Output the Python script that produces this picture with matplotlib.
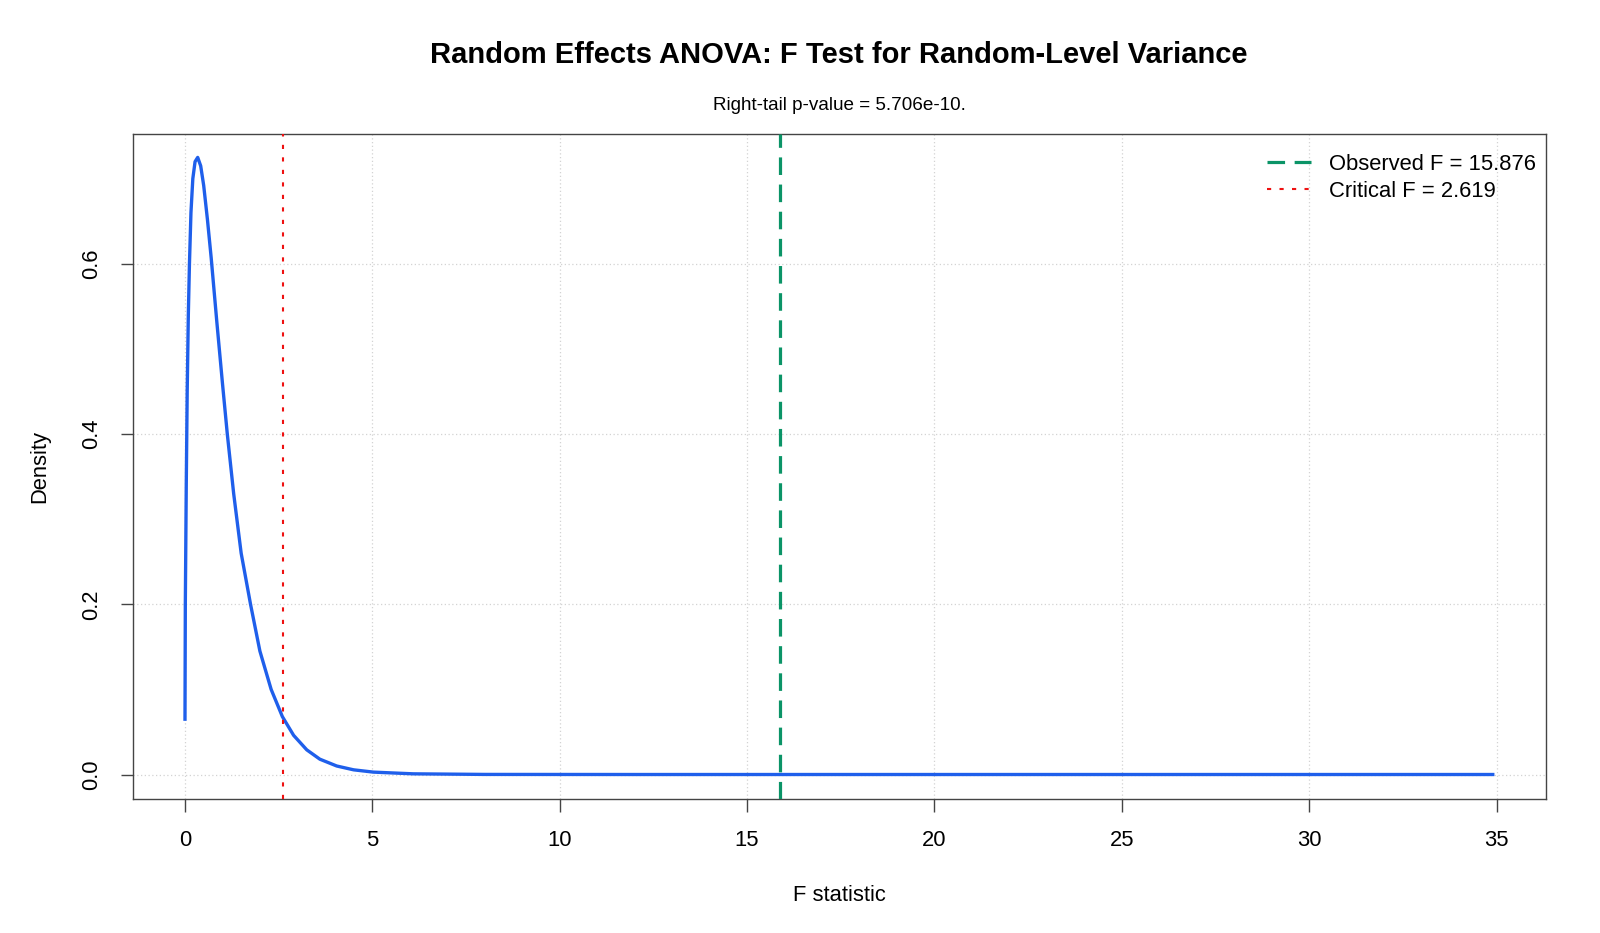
import numpy as np
import matplotlib.pyplot as plt

plt.rcParams['font.family'] = ['Liberation Sans', 'DejaVu Sans']

# density curve
f_vals = [0.001, 0.01, 0.035, 0.06, 0.09, 0.12, 0.16, 0.21, 0.27, 0.34, 0.42,
          0.50, 0.60, 0.70, 0.85, 1.00, 1.13, 1.30, 1.50, 1.75, 2.00, 2.30,
          2.60, 2.90, 3.25, 3.60, 4.05, 4.50, 5.03, 6.09, 8.0, 12.0, 20.0, 34.9]
density = [0.065, 0.20, 0.34, 0.45, 0.54, 0.60, 0.66, 0.70, 0.72, 0.725, 0.715,
           0.692, 0.652, 0.607, 0.532, 0.460, 0.400, 0.330, 0.260, 0.200, 0.145,
           0.100, 0.068, 0.046, 0.029, 0.018, 0.010, 0.0055, 0.0028, 0.0008,
           0.0001, 0.0, 0.0, 0.0]

f_observed = 15.876
f_critical = 2.619
p_value = 5.706e-10

x_ticks = [0, 5, 10, 15, 20, 25, 30, 35]
y_ticks = [0.0, 0.2, 0.4, 0.6]

fig = plt.figure(figsize=(16, 9.33), dpi=100)
ax = fig.add_axes([0.0829, 0.1436, 0.8831, 0.7128])

ax.plot(f_vals, density, color='#1F5FEB', lw=2.4, solid_joinstyle='round', zorder=3)
ax.axvline(f_observed, color='#0B9467', lw=2.3, linestyle=(0, (5.5, 3)),
           label='Observed F = {0:.3f}'.format(f_observed), zorder=4)
ax.axvline(f_critical, color='#EE1111', lw=1.5, linestyle=(0, (2, 4)),
           label='Critical F = {0:.3f}'.format(f_critical), zorder=4)

ax.set_xlim(-1.396, 36.31)
ax.set_ylim(-0.0288, 0.7525)
ax.set_xticks(x_ticks)
ax.set_yticks(y_ticks)
ax.set_xticklabels([str(t) for t in x_ticks])
ax.set_yticklabels(['{0:.1f}'.format(t) for t in y_ticks], rotation=90, va='center')
ax.grid(True, color='#D3D3D3', linestyle=(0, (1, 2)), lw=0.9)
ax.set_axisbelow(True)

for s in ax.spines.values():
    s.set_color('#444444')
    s.set_linewidth(1.0)
ax.tick_params(axis='both', length=9, width=1.0, color='#444444', labelsize=15.8,
               labelcolor='black')
ax.tick_params(axis='x', pad=13)
ax.tick_params(axis='y', pad=13)

ax.set_xlabel('F statistic', fontsize=15.8)
ax.set_ylabel('Density', fontsize=15.8)
ax.xaxis.set_label_coords(0.5, -0.130)
ax.yaxis.set_label_coords(-0.058, 0.5)

leg = ax.legend(loc='upper right', bbox_to_anchor=(1.0, 0.985), frameon=False,
                fontsize=15.8, handlelength=2.0, handletextpad=0.8,
                labelspacing=0.27, borderaxespad=0.2, borderpad=0.25)

cx = 0.0829 + 0.8831 / 2
fig.text(cx, 1 - 55 / 933, 'Random Effects ANOVA: F Test for Random-Level Variance',
         ha='center', va='center', fontsize=21, fontweight='bold')
fig.text(cx, 1 - 106 / 933, 'Right-tail p-value = {0:.3e}.'.format(p_value),
         ha='center', va='center', fontsize=13.6)

fig.savefig('out.png', dpi=100)
